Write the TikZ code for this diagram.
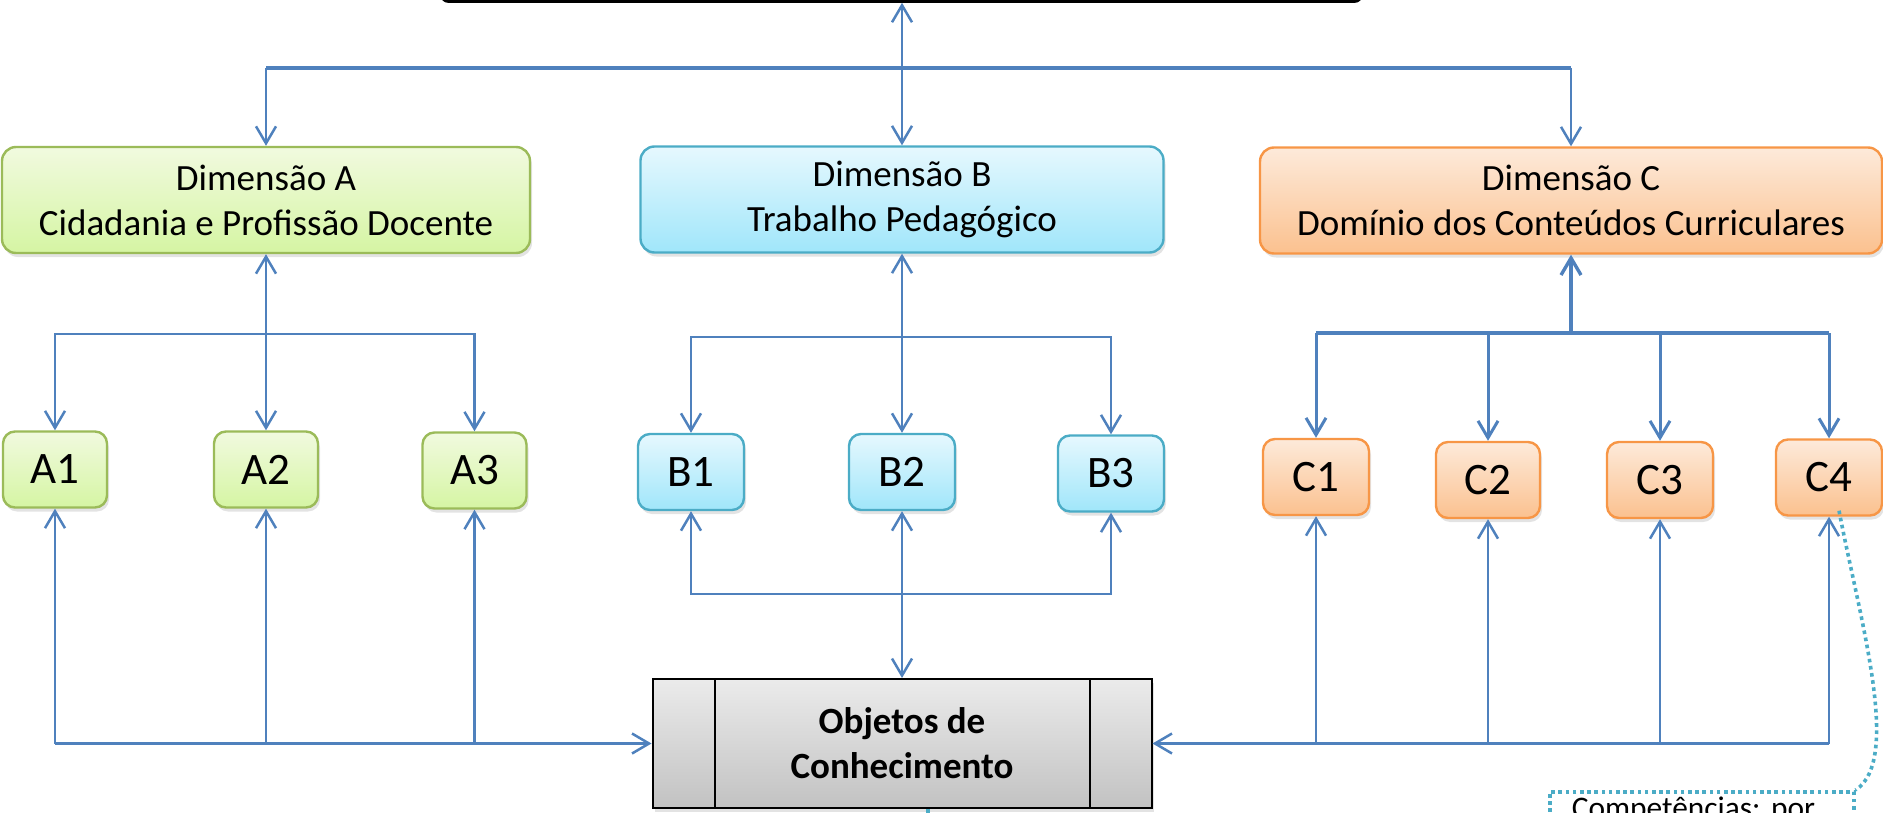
\documentclass[tikz,border=0pt]{standalone}
\usepackage{fontspec}
\setmainfont{Carlito}
\frenchspacing
\usetikzlibrary{arrows.meta,shadows,positioning}

\definecolor{linkblue}{HTML}{4F81BD}
\definecolor{aline}{HTML}{9BBB59}
\definecolor{atop}{HTML}{F1FADF}
\definecolor{abot}{HTML}{D5F5A3}
\definecolor{bline}{HTML}{4BACC6}
\definecolor{btop}{HTML}{E6F8FE}
\definecolor{bbot}{HTML}{A0E6FA}
\definecolor{cline}{HTML}{F79646}
\definecolor{ctop}{HTML}{FDEADA}
\definecolor{cbot}{HTML}{FBC18F}
\definecolor{gtop}{HTML}{EBEBEB}
\definecolor{gbot}{HTML}{C2C2C2}

\tikzset{
  box/.style={rounded corners=6pt, line width=1.2pt, align=center,
    drop shadow={shadow xshift=1pt, shadow yshift=-2pt, opacity=0.22}},
  dimbox/.style={box, rounded corners=7pt, minimum height=53pt,
    font=\fontsize{18.5}{22.5}\selectfont},
  subbox/.style={box, minimum width=52pt, minimum height=38pt,
    font=\fontsize{22.5}{26}\selectfont},
  grp a/.style={draw=aline, top color=atop, bottom color=abot},
  grp b/.style={draw=bline, top color=btop, bottom color=bbot},
  grp c/.style={draw=cline, top color=ctop, bottom color=cbot},
  link/.style={draw=linkblue, line width=1.25pt},
  dots/.style={draw=bline, line width=1.8pt, dash pattern=on 1.8pt off 1.8pt},
}

\begin{document}
\begin{tikzpicture}[x=0.5pt, y=-0.5pt, >={Straight Barb[length=8.5pt,width=10pt]}]
\useasboundingbox (0,0) rectangle (1883,813);

% boxes
\node[draw=black, line width=1.3pt, fill=white, rounded corners=3pt,
      minimum width=459.5pt, minimum height=50pt] (top) at (901.5,-48.5) {};

\node[dimbox, grp a, minimum width=264pt]   (dimA) at (266,200) {Dimensão A\\Cidadania e Profissão Docente};
\node[dimbox, grp b, minimum width=261.5pt] (dimB) at (902,199.5) {Dimensão B\\Trabalho Pedagógico};
\node[dimbox, grp c, minimum width=311pt]   (dimC) at (1571,200.5) {Dimensão C\\Domínio dos Conteúdos Curriculares};

\node[subbox, grp a] (a1) at (55,469.5) {A1};
\node[subbox, grp a] (a2) at (266,469.5) {A2};
\node[subbox, grp a] (a3) at (474.5,470.5) {A3};

\node[subbox, grp b, minimum width=53pt] (b1) at (691,472) {B1};
\node[subbox, grp b, minimum width=53pt] (b2) at (902,472) {B2};
\node[subbox, grp b, minimum width=53pt] (b3) at (1111,473.5) {B3};

\node[subbox, grp c, minimum width=53pt] (c1) at (1316,477) {C1};
\node[subbox, grp c] (c2) at (1488,480) {C2};
\node[subbox, grp c, minimum width=53pt] (c3) at (1660,480) {C3};
\node[subbox, grp c, minimum width=53pt] (c4) at (1829,477.5) {C4};

\node[draw=black, line width=1pt, top color=gtop, bottom color=gbot,
      minimum width=249.5pt, minimum height=64.5pt, align=center,
      font=\bfseries\fontsize{18.5}{22.5}\selectfont,
      drop shadow={shadow xshift=1pt, shadow yshift=-2pt, opacity=0.22}]
      (obj) at (902,743.5) {Objetos de\\Conhecimento};
\draw[line width=1pt] ([xshift=31.5pt]obj.north west) -- ([xshift=31.5pt]obj.south west);
\draw[line width=1pt] ([xshift=-31.5pt]obj.north east) -- ([xshift=-31.5pt]obj.south east);

\node[dots, fill=white, anchor=north west, inner xsep=11pt, inner ysep=3pt,
      text width=130pt, align=left, text height=10.5pt, text depth=60pt,
      font=\fontsize{15.7}{19}\selectfont] (note) at (1548,790) {Competências: por};

% top level
\coordinate (tbus) at (902,68);
\draw[link, line width=1.7pt] (dimA.north |- tbus) -- (dimC.north |- tbus);
\draw[link, <->] (dimB.north) -- (dimB.north |- top.south);
\draw[link, ->] (dimA.north |- tbus) -- (dimA.north);
\draw[link, ->] (dimC.north |- tbus) -- (dimC.north);

% dimension A
\coordinate (abus) at (266,334);
\draw[link, <-] (dimA.south) -- (abus);
\draw[link, ->] (abus) -| (a1.north);
\draw[link, ->] (abus) -- (a2.north);
\draw[link, ->] (abus) -| (a3.north);
\draw[link, ->] (a1.south |- obj.west) -- (obj.west);
\draw[link, ->] (a1.south |- obj.west) -- (a1.south);
\draw[link, ->] (a2.south |- obj.west) -- (a2.south);
\draw[link, ->] (a3.south |- obj.west) -- (a3.south);

% dimension B
\coordinate (bbus) at (902,337);
\coordinate (bdown) at (902,594);
\draw[link, <-] (dimB.south) -- (bbus);
\draw[link, ->] (bbus) -| (b1.north);
\draw[link, ->] (bbus) -- (b2.north);
\draw[link, ->] (bbus) -| (b3.north);
\draw[link, ->] (bdown) -| (b1.south);
\draw[link, ->] (bdown) -| (b3.south);
\draw[link, <->] (b2.south) -- (obj.north);

% dimension C
\coordinate (cbus) at (1571,333);
\draw[link, line width=1.7pt, <-] (dimC.south) -- (cbus);
\draw[link, line width=1.7pt] (c1.north |- cbus) -- (c4.north |- cbus);
\draw[link, line width=1.5pt, ->] (c1.north |- cbus) -- (c1.north);
\draw[link, line width=1.5pt, ->] (c2.north |- cbus) -- (c2.north);
\draw[link, line width=1.5pt, ->] (c3.north |- cbus) -- (c3.north);
\draw[link, line width=1.5pt, ->] (c4.north |- cbus) -- (c4.north);
\draw[link, ->] (c4.south |- obj.east) -- (obj.east);
\draw[link, ->] (c1.south |- obj.east) -- (c1.south);
\draw[link, ->] (c2.south |- obj.east) -- (c2.south);
\draw[link, ->] (c3.south |- obj.east) -- (c3.south);
\draw[link, ->] (c4.south |- obj.east) -- (c4.south);

% callout
\draw[dots] ([xshift=5pt,yshift=3pt]c4.south) .. controls (1860,620) and (1902,760) .. (note.north east);
\draw[dots] ([xshift=13pt]obj.south) -- ++(0,30);
\end{tikzpicture}
\end{document}
